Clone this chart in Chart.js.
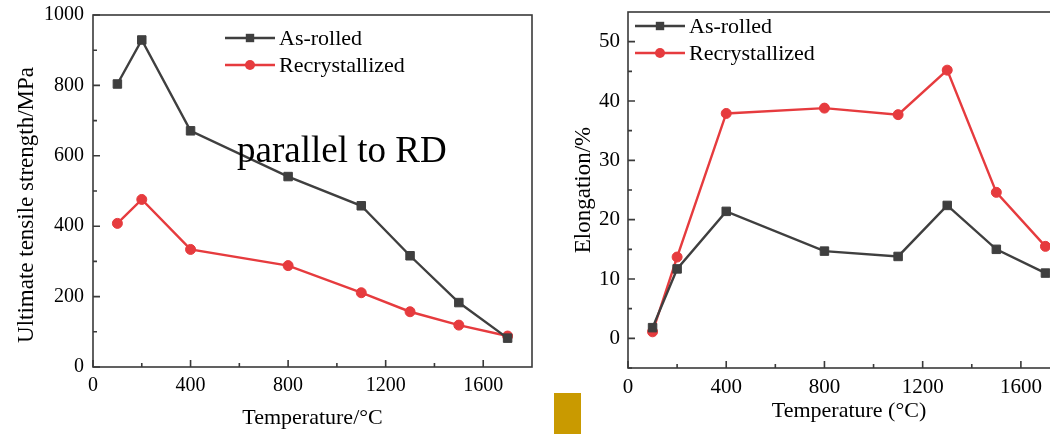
<!DOCTYPE html>
<html>
<head>
<meta charset="utf-8">
<script src="https://cdn.jsdelivr.net/npm/chart.js@4.4.1/dist/chart.umd.min.js"></script>
<style>
  html, body { margin: 0; padding: 0; background: #fff; overflow: hidden; width: 1050px; height: 434px; }
  #uts { position: absolute; left: 0; top: 0; }
  #elong { position: absolute; left: 560px; top: 0; }
  .tab { position: absolute; left: 554px; top: 393px; width: 27px; height: 41px; background: #c99a00; }
</style>
</head>
<body>
<canvas id="uts" width="545" height="434"></canvas>
<canvas id="elong" width="520" height="434"></canvas>
<div class="tab"></div>
<script>
// test temperatures (°C)
const temps = [100, 200, 400, 800, 1100, 1300, 1500, 1700];

// ultimate tensile strength, MPa
const utsAsRolled = [804, 929, 671, 541, 458, 316, 183, 82];
const utsRecryst = [408, 476, 334, 288, 211, 157, 119, 88];

// elongation, %
const elAsRolled = [1.8, 11.7, 21.4, 14.7, 13.8, 22.4, 15.0, 11.0];
const elRecryst = [1.1, 13.7, 37.9, 38.8, 37.7, 45.2, 24.6, 15.5];

const seriesNames = ["As-rolled", "Recrystallized"];

// axis ticks
const tempTicks = [0, 400, 800, 1200, 1600];
const tempMinor = [200, 600, 1000, 1400];
const utsTicks = [0, 200, 400, 600, 800, 1000];
const utsMinor = [100, 300, 500, 700, 900];
const elTicks = [0, 10, 20, 30, 40, 50];
const elMinor = [-5, 5, 15, 25, 35, 45];

const SERIF = "'Liberation Serif', 'Times New Roman', serif";
const GRAY = "#3f3f3f";
const RED = "#e63b3e";
const AXIS = "#3a3a3a";

function pts(ys) {
  return temps.map(function (t, i) { return { x: t, y: ys[i] }; });
}

function series(label, ys, color, shape) {
  return {
    label: label,
    data: pts(ys),
    borderColor: color,
    backgroundColor: color,
    borderWidth: 2.4,
    pointStyle: shape,
    pointRadius: shape === "rect" ? 6 : 5,
    pointBorderWidth: 1,
    pointBorderColor: color,
    pointBackgroundColor: color,
    tension: 0,
  };
}

// box around the plot plus inward tick marks on bottom and left
const framePlugin = {
  id: "frame",
  afterDatasetsDraw(chart, args, opts) {
    const ctx = chart.ctx;
    const a = chart.chartArea;
    const xs = chart.scales.x, ys = chart.scales.y;
    ctx.save();
    ctx.strokeStyle = AXIS;
    ctx.lineWidth = 1.6;
    ctx.strokeRect(a.left, a.top, a.right - a.left, a.bottom - a.top);
    ctx.beginPath();
    xs.ticks.forEach(function (t) {
      const px = xs.getPixelForValue(t.value);
      ctx.moveTo(px, a.bottom); ctx.lineTo(px, a.bottom - 7);
    });
    opts.xMinor.forEach(function (v) {
      const px = xs.getPixelForValue(v);
      ctx.moveTo(px, a.bottom); ctx.lineTo(px, a.bottom - 4);
    });
    ys.ticks.forEach(function (t) {
      const py = ys.getPixelForValue(t.value);
      ctx.moveTo(a.left, py); ctx.lineTo(a.left + 7, py);
    });
    opts.yMinor.forEach(function (v) {
      const py = ys.getPixelForValue(v);
      ctx.moveTo(a.left, py); ctx.lineTo(a.left + 4, py);
    });
    ctx.stroke();
    ctx.restore();
  },
};

// legend drawn as line + marker + name, inside the plot
const lineLegend = {
  id: "lineLegend",
  afterDraw(chart, args, opts) {
    const ctx = chart.ctx;
    const a = chart.chartArea;
    ctx.save();
    chart.data.datasets.forEach(function (ds, i) {
      const x0 = a.left + opts.x;
      const y = a.top + opts.y + i * opts.rowGap;
      const x1 = x0 + opts.lineLen;
      const cx = (x0 + x1) / 2;
      ctx.strokeStyle = ds.borderColor;
      ctx.lineWidth = 2.4;
      ctx.beginPath();
      ctx.moveTo(x0, y); ctx.lineTo(x1, y);
      ctx.stroke();
      ctx.fillStyle = ds.borderColor;
      ctx.beginPath();
      if (ds.pointStyle === "rect") {
        ctx.rect(cx - 4.2, y - 4.2, 8.4, 8.4);
      } else {
        ctx.arc(cx, y, 5, 0, Math.PI * 2);
      }
      ctx.fill();
      ctx.fillStyle = "#000";
      ctx.font = opts.size + "px " + SERIF;
      ctx.textAlign = "left";
      ctx.textBaseline = "middle";
      ctx.fillText(ds.label, x1 + opts.textGap, y + 1);
    });
    ctx.restore();
  },
};

// free text inside the plot and the rotated y-axis title
const textPlugin = {
  id: "texts",
  afterDraw(chart, args, opts) {
    const ctx = chart.ctx;
    const a = chart.chartArea;
    ctx.save();
    ctx.fillStyle = "#000";
    ctx.textBaseline = "middle";
    if (opts.note) {
      ctx.font = opts.note.size + "px " + SERIF;
      ctx.textAlign = "left";
      ctx.fillText(opts.note.text, a.left + opts.note.x, a.top + opts.note.y);
    }
    const yt = opts.yTitle;
    ctx.font = yt.size + "px " + SERIF;
    ctx.textAlign = "center";
    ctx.translate(yt.x, (a.top + a.bottom) / 2 + yt.shift);
    ctx.rotate(-Math.PI / 2);
    ctx.fillText(yt.text, 0, 0);
    ctx.restore();
  },
};

function makeChart(id, cfg) {
  const tickFont = { family: SERIF, size: cfg.tickSize };
  return new Chart(document.getElementById(id), {
    type: "line",
    data: { datasets: cfg.datasets },
    plugins: [framePlugin, lineLegend, textPlugin],
    options: {
      responsive: false,
      animation: false,
      devicePixelRatio: 1,
      layout: { padding: cfg.padding },
      plugins: {
        legend: { display: false },
        tooltip: { enabled: false },
        frame: { xMinor: tempMinor, yMinor: cfg.yMinor },
        lineLegend: cfg.legend,
        texts: { note: cfg.note, yTitle: cfg.yTitle },
      },
      scales: {
        x: {
          type: "linear",
          min: 0,
          max: 1800,
          afterBuildTicks: function (s) { s.ticks = tempTicks.map(function (v) { return { value: v }; }); },
          afterFit: function (s) {
            s.height = cfg.xHeight;
            s.paddingLeft = 0;
            s.paddingRight = 0;
          },
          grid: { display: false, drawTicks: false },
          border: { display: false },
          ticks: {
            color: "#000", font: tickFont, padding: 7, maxRotation: 0,
            callback: function (v) { return String(v); },
          },
          title: {
            display: true, text: cfg.xTitle, color: "#000",
            font: { family: SERIF, size: 22 }, padding: cfg.xTitlePad,
          },
        },
        y: {
          type: "linear",
          min: cfg.yMin,
          max: cfg.yMax,
          afterBuildTicks: function (s) { s.ticks = cfg.yTicks.map(function (v) { return { value: v }; }); },
          // fixed width, and keep the tick labels from pushing the plot down
          afterFit: function (s) {
            s.width = cfg.yWidth;
            s.paddingTop = 0;
            s.paddingBottom = 0;
          },
          grid: { display: false, drawTicks: false },
          border: { display: false },
          ticks: {
            color: "#000", font: tickFont, padding: cfg.yTickPad,
            callback: function (v) { return String(v); },
          },
        },
      },
    },
  });
}

makeChart("uts", {
  datasets: [
    series(seriesNames[0], utsAsRolled, GRAY, "rect"),
    series(seriesNames[1], utsRecryst, RED, "circle"),
  ],
  padding: { top: 15, right: 13, left: 0, bottom: 0 },
  xHeight: 67,
  yWidth: 93,
  yMin: 0,
  yMax: 1000,
  yTicks: utsTicks,
  yMinor: utsMinor,
  tickSize: 20,
  yTickPad: 9,
  xTitle: "Temperature/°C",
  xTitlePad: { top: 0, bottom: 3 },
  yTitle: { text: "Ultimate tensile strength/MPa", x: 27, shift: 14, size: 23 },
  legend: { x: 132, y: 23, rowGap: 27, lineLen: 50, textGap: 4, size: 22 },
  note: { text: "parallel to RD", x: 144, y: 137, size: 37 },
});

makeChart("elong", {
  datasets: [
    series(seriesNames[0], elAsRolled, GRAY, "rect"),
    series(seriesNames[1], elRecryst, RED, "circle"),
  ],
  padding: { top: 12, right: 10, left: 0, bottom: 0 },
  xHeight: 66,
  yWidth: 68,
  yMin: -5,
  yMax: 55,
  yTicks: elTicks,
  yMinor: elMinor,
  tickSize: 21,
  yTickPad: 8,
  xTitle: "Temperature (°C)",
  xTitlePad: { top: 0, bottom: 10 },
  yTitle: { text: "Elongation/%", x: 24, shift: 0, size: 23 },
  legend: { x: 7, y: 14, rowGap: 27, lineLen: 50, textGap: 4, size: 22 },
});
</script>
</body>
</html>
